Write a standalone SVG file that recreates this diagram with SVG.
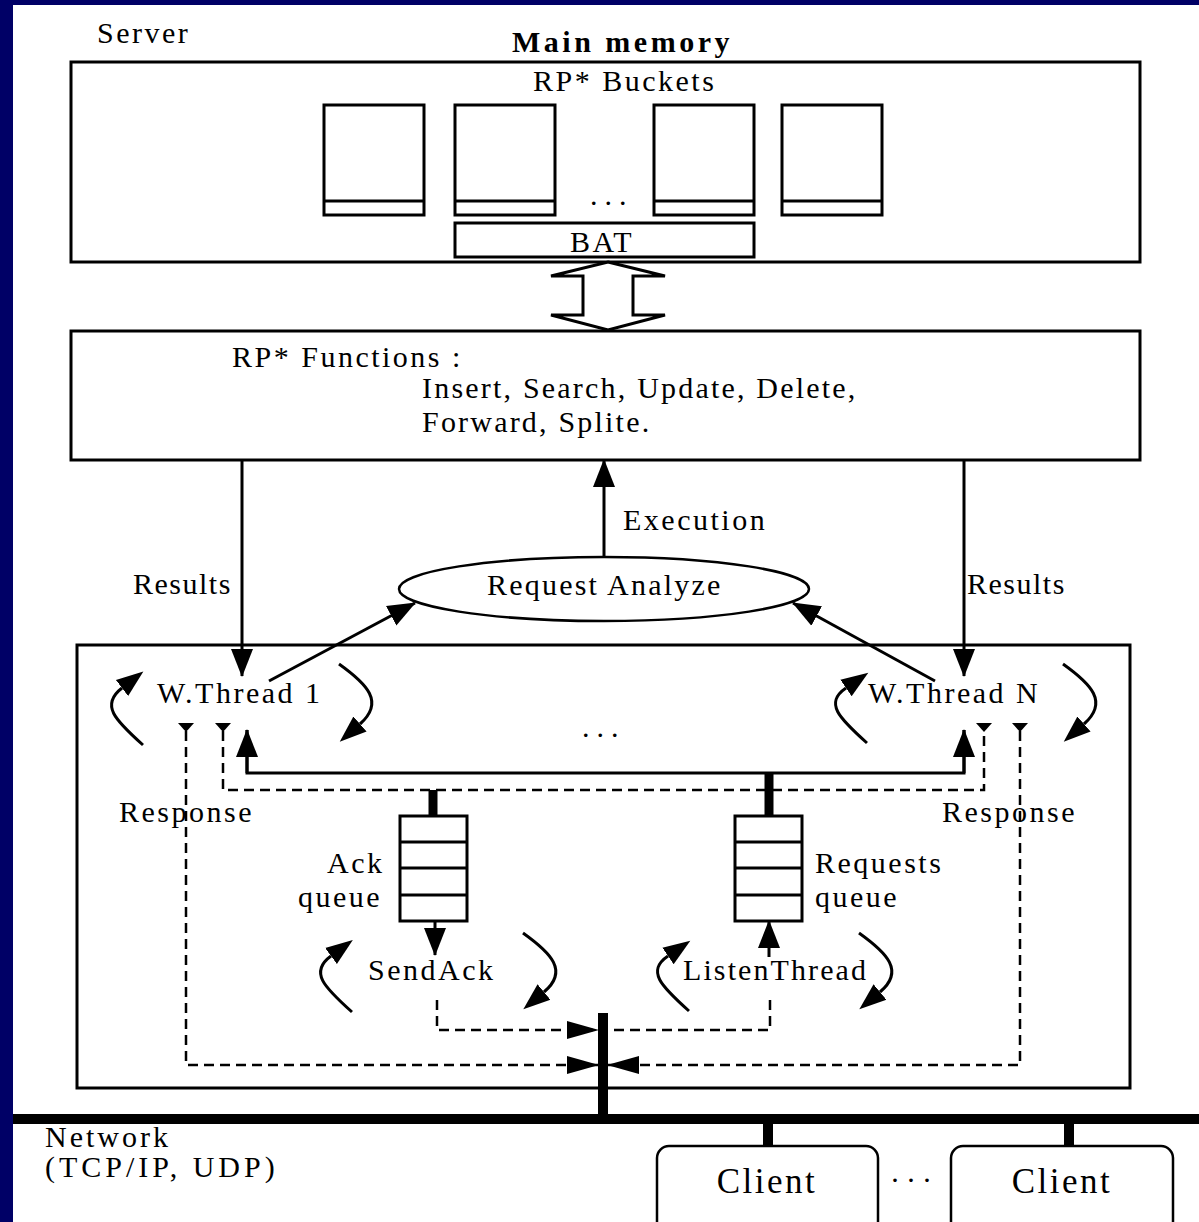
<svg xmlns="http://www.w3.org/2000/svg" width="1199" height="1222" viewBox="0 0 1199 1222">
<style>
.t{font-family:"Liberation Serif","Times New Roman",serif;font-size:30px;letter-spacing:2.5px;fill:#000}
.b{fill:#fff;stroke:#000;stroke-width:3}
.ln{fill:none;stroke:#000;stroke-width:3}
.th{fill:none;stroke:#000;stroke-width:9}
.ds{fill:none;stroke:#000;stroke-width:2.5;stroke-dasharray:10 6}
.cv{fill:none;stroke:#000;stroke-width:3}
</style>
<defs>
<marker id="ah" viewBox="0 -12 28 24" refX="27" refY="0" markerWidth="28" markerHeight="24" markerUnits="userSpaceOnUse" orient="auto">
<path d="M0,-11 L28,0 L0,11 z" fill="#000"/>
</marker>
<marker id="ahc" viewBox="0 -12 28 24" refX="0" refY="0" markerWidth="28" markerHeight="24" markerUnits="userSpaceOnUse" orient="auto">
<path d="M0,-10 L27,0 L0,10 z" fill="#000"/>
</marker>
<marker id="ahd" viewBox="0 -10 32 20" refX="31" refY="0" markerWidth="32" markerHeight="20" markerUnits="userSpaceOnUse" orient="auto">
<path d="M0,-9 L32,0 L0,9 z" fill="#000"/>
</marker>
</defs>
<rect x="0" y="0" width="1199" height="1222" fill="#fff"/>
<rect x="0" y="0" width="1199" height="5" fill="#000066"/>
<rect x="0" y="0" width="13" height="1222" fill="#000066"/>

<text class="t" x="97" y="43">Server</text>

<g id="main-memory">
<rect class="b" x="71" y="62" width="1069" height="200"/>
<text class="t" x="512" y="52" style="font-weight:bold;letter-spacing:3.5px">Main memory</text>
<text class="t" x="533" y="91">RP* Buckets</text>
</g>
<g id="bucket1"><rect class="b" x="324" y="105" width="100" height="110"/><line class="ln" x1="324" y1="201" x2="424" y2="201"/></g>
<g id="bucket2"><rect class="b" x="455" y="105" width="100" height="110"/><line class="ln" x1="455" y1="201" x2="555" y2="201"/></g>
<g id="bucket3"><rect class="b" x="654" y="105" width="100" height="110"/><line class="ln" x1="654" y1="201" x2="754" y2="201"/></g>
<g id="bucket4"><rect class="b" x="782" y="105" width="100" height="110"/><line class="ln" x1="782" y1="201" x2="882" y2="201"/></g>
<text class="t" x="590" y="205" style="letter-spacing:7px">...</text>
<g id="bat"><rect class="b" x="455" y="223" width="299" height="34"/><text class="t" x="570" y="252">BAT</text></g>

<g id="functions">
<rect class="b" x="71" y="331" width="1069" height="129"/>
<text class="t" x="232" y="367">RP* Functions :</text>
<text class="t" x="422" y="398" style="letter-spacing:2.2px">Insert, Search, Update, Delete,</text>
<text class="t" x="422" y="432" style="letter-spacing:2.2px">Forward, Splite.</text>
</g>

<g id="request-analyze">
<ellipse cx="604" cy="589" rx="205" ry="32" fill="#fff" stroke="#000" stroke-width="2.5"/>
<text class="t" x="487" y="595" style="letter-spacing:2.2px">Request Analyze</text>
</g>

<g id="thread-area">
<rect x="77" y="645" width="1053" height="443" fill="none" stroke="#000" stroke-width="3"/>
</g>
<g id="wthread1"><text class="t" x="157" y="703">W.Thread 1</text></g>
<g id="wthreadN"><text class="t" x="868" y="703">W.Thread N</text></g>
<text class="t" x="582" y="737" style="letter-spacing:7px">...</text>

<g id="ack-queue">
<rect class="b" x="400" y="816" width="67" height="105"/>
<line class="ln" x1="400" y1="842" x2="467" y2="842"/>
<line class="ln" x1="400" y1="868" x2="467" y2="868"/>
<line class="ln" x1="400" y1="895" x2="467" y2="895"/>
<text class="t" x="327" y="873">Ack</text>
<text class="t" x="298" y="907">queue</text>
</g>
<g id="requests-queue">
<rect class="b" x="735" y="816" width="67" height="105"/>
<line class="ln" x1="735" y1="842" x2="802" y2="842"/>
<line class="ln" x1="735" y1="868" x2="802" y2="868"/>
<line class="ln" x1="735" y1="895" x2="802" y2="895"/>
<text class="t" x="815" y="873">Requests</text>
<text class="t" x="815" y="907">queue</text>
</g>
<g id="sendack"><text class="t" x="368" y="980">SendAck</text></g>
<g id="listenthread"><text class="t" x="683" y="980" style="letter-spacing:2.1px">ListenThread</text></g>

<g id="network">
<line x1="13" y1="1119" x2="1199" y2="1119" stroke="#000" stroke-width="10"/>
<text class="t" x="45" y="1147" style="letter-spacing:3px">Network</text>
<text class="t" x="45" y="1177" style="letter-spacing:4px">(TCP/IP, UDP)</text>
</g>
<g id="client1">
<rect x="657" y="1146" width="221" height="100" rx="12" fill="#fff" stroke="#000" stroke-width="2.5"/>
<text class="t" x="767" y="1193" text-anchor="middle" style="font-size:35px;letter-spacing:2.5px">Client</text>
</g>
<g id="client2">
<rect x="951" y="1146" width="222" height="100" rx="12" fill="#fff" stroke="#000" stroke-width="2.5"/>
<text class="t" x="1062" y="1193" text-anchor="middle" style="font-size:35px;letter-spacing:2.5px">Client</text>
</g>
<text class="t" x="890" y="1190" style="letter-spacing:6px">···</text>

<g id="connectors">
<path d="M608,262 L665,276 L633,276 L633,315 L665,315 L608,330 L551,315 L583,315 L583,276 L551,276 Z" fill="#fff" stroke="#000" stroke-width="3"/>
<line class="ln" x1="604" y1="557" x2="604" y2="460" marker-end="url(#ah)"/>
<text class="t" x="623" y="530">Execution</text>
<line class="ln" x1="242" y1="460" x2="242" y2="676" marker-end="url(#ah)"/>
<line class="ln" x1="964" y1="460" x2="964" y2="676" marker-end="url(#ah)"/>
<text class="t" x="133" y="594" style="letter-spacing:1.5px">Results</text>
<text class="t" x="967" y="594" style="letter-spacing:1.5px">Results</text>
<line class="ln" x1="269" y1="681" x2="415" y2="603" marker-end="url(#ah)"/>
<line class="ln" x1="935" y1="681" x2="793" y2="603" marker-end="url(#ah)"/>
<polyline class="ln" points="247,730 247,773 964,773 964,730"/>
<line class="ln" x1="247" y1="773" x2="247" y2="730" marker-end="url(#ah)"/>
<line class="ln" x1="964" y1="773" x2="964" y2="730" marker-end="url(#ah)"/>
<line class="th" x1="769" y1="773" x2="769" y2="817"/>
<line class="th" x1="433" y1="790" x2="433" y2="817"/>
<polyline class="ds" points="223,731 223,790 984,790 984,731"/>
<polyline class="ds" points="186,731 186,1065 598,1065" marker-end="url(#ahd)"/>
<polyline class="ds" points="1020,731 1020,1065 608,1065" marker-end="url(#ahd)"/>
<polygon points="178,723 194,723 186,732" fill="#000"/>
<polygon points="215,723 231,723 223,732" fill="#000"/>
<polygon points="976,723 992,723 984,732" fill="#000"/>
<polygon points="1012,723 1028,723 1020,732" fill="#000"/>
<text class="t" x="119" y="822">Response</text>
<text class="t" x="942" y="822">Response</text>
<polyline class="ds" points="437,1000 437,1030 598,1030" marker-end="url(#ahd)"/>
<polyline class="ds" points="770,1000 770,1030 608,1030"/>
<line x1="603" y1="1013" x2="603" y2="1119" stroke="#000" stroke-width="10"/>
<line class="ln" x1="435" y1="921" x2="435" y2="955" marker-end="url(#ah)"/>
<line class="ln" x1="769" y1="957" x2="769" y2="921" marker-end="url(#ah)"/>
<line x1="768" y1="1119" x2="768" y2="1147" stroke="#000" stroke-width="10"/>
<line x1="1069" y1="1119" x2="1069" y2="1147" stroke="#000" stroke-width="10"/>
<path class="cv" d="M143,745 C115,720 100,705 122,688" marker-end="url(#ahc)"/>
<path class="cv" d="M339,664 C367,684 385,702 360,724" marker-end="url(#ahc)"/>
<path class="cv" d="M867,743 C839,718 824,703 846,688" marker-end="url(#ahc)"/>
<path class="cv" d="M1063,664 C1091,684 1109,702 1084,724" marker-end="url(#ahc)"/>
<path class="cv" d="M352,1012 C324,987 309,972 331,956" marker-end="url(#ahc)"/>
<path class="cv" d="M523,933 C551,953 569,971 544,992" marker-end="url(#ahc)"/>
<path class="cv" d="M689,1011 C661,986 646,971 668,956" marker-end="url(#ahc)"/>
<path class="cv" d="M859,933 C887,953 905,971 880,992" marker-end="url(#ahc)"/>
</g>
</svg>
